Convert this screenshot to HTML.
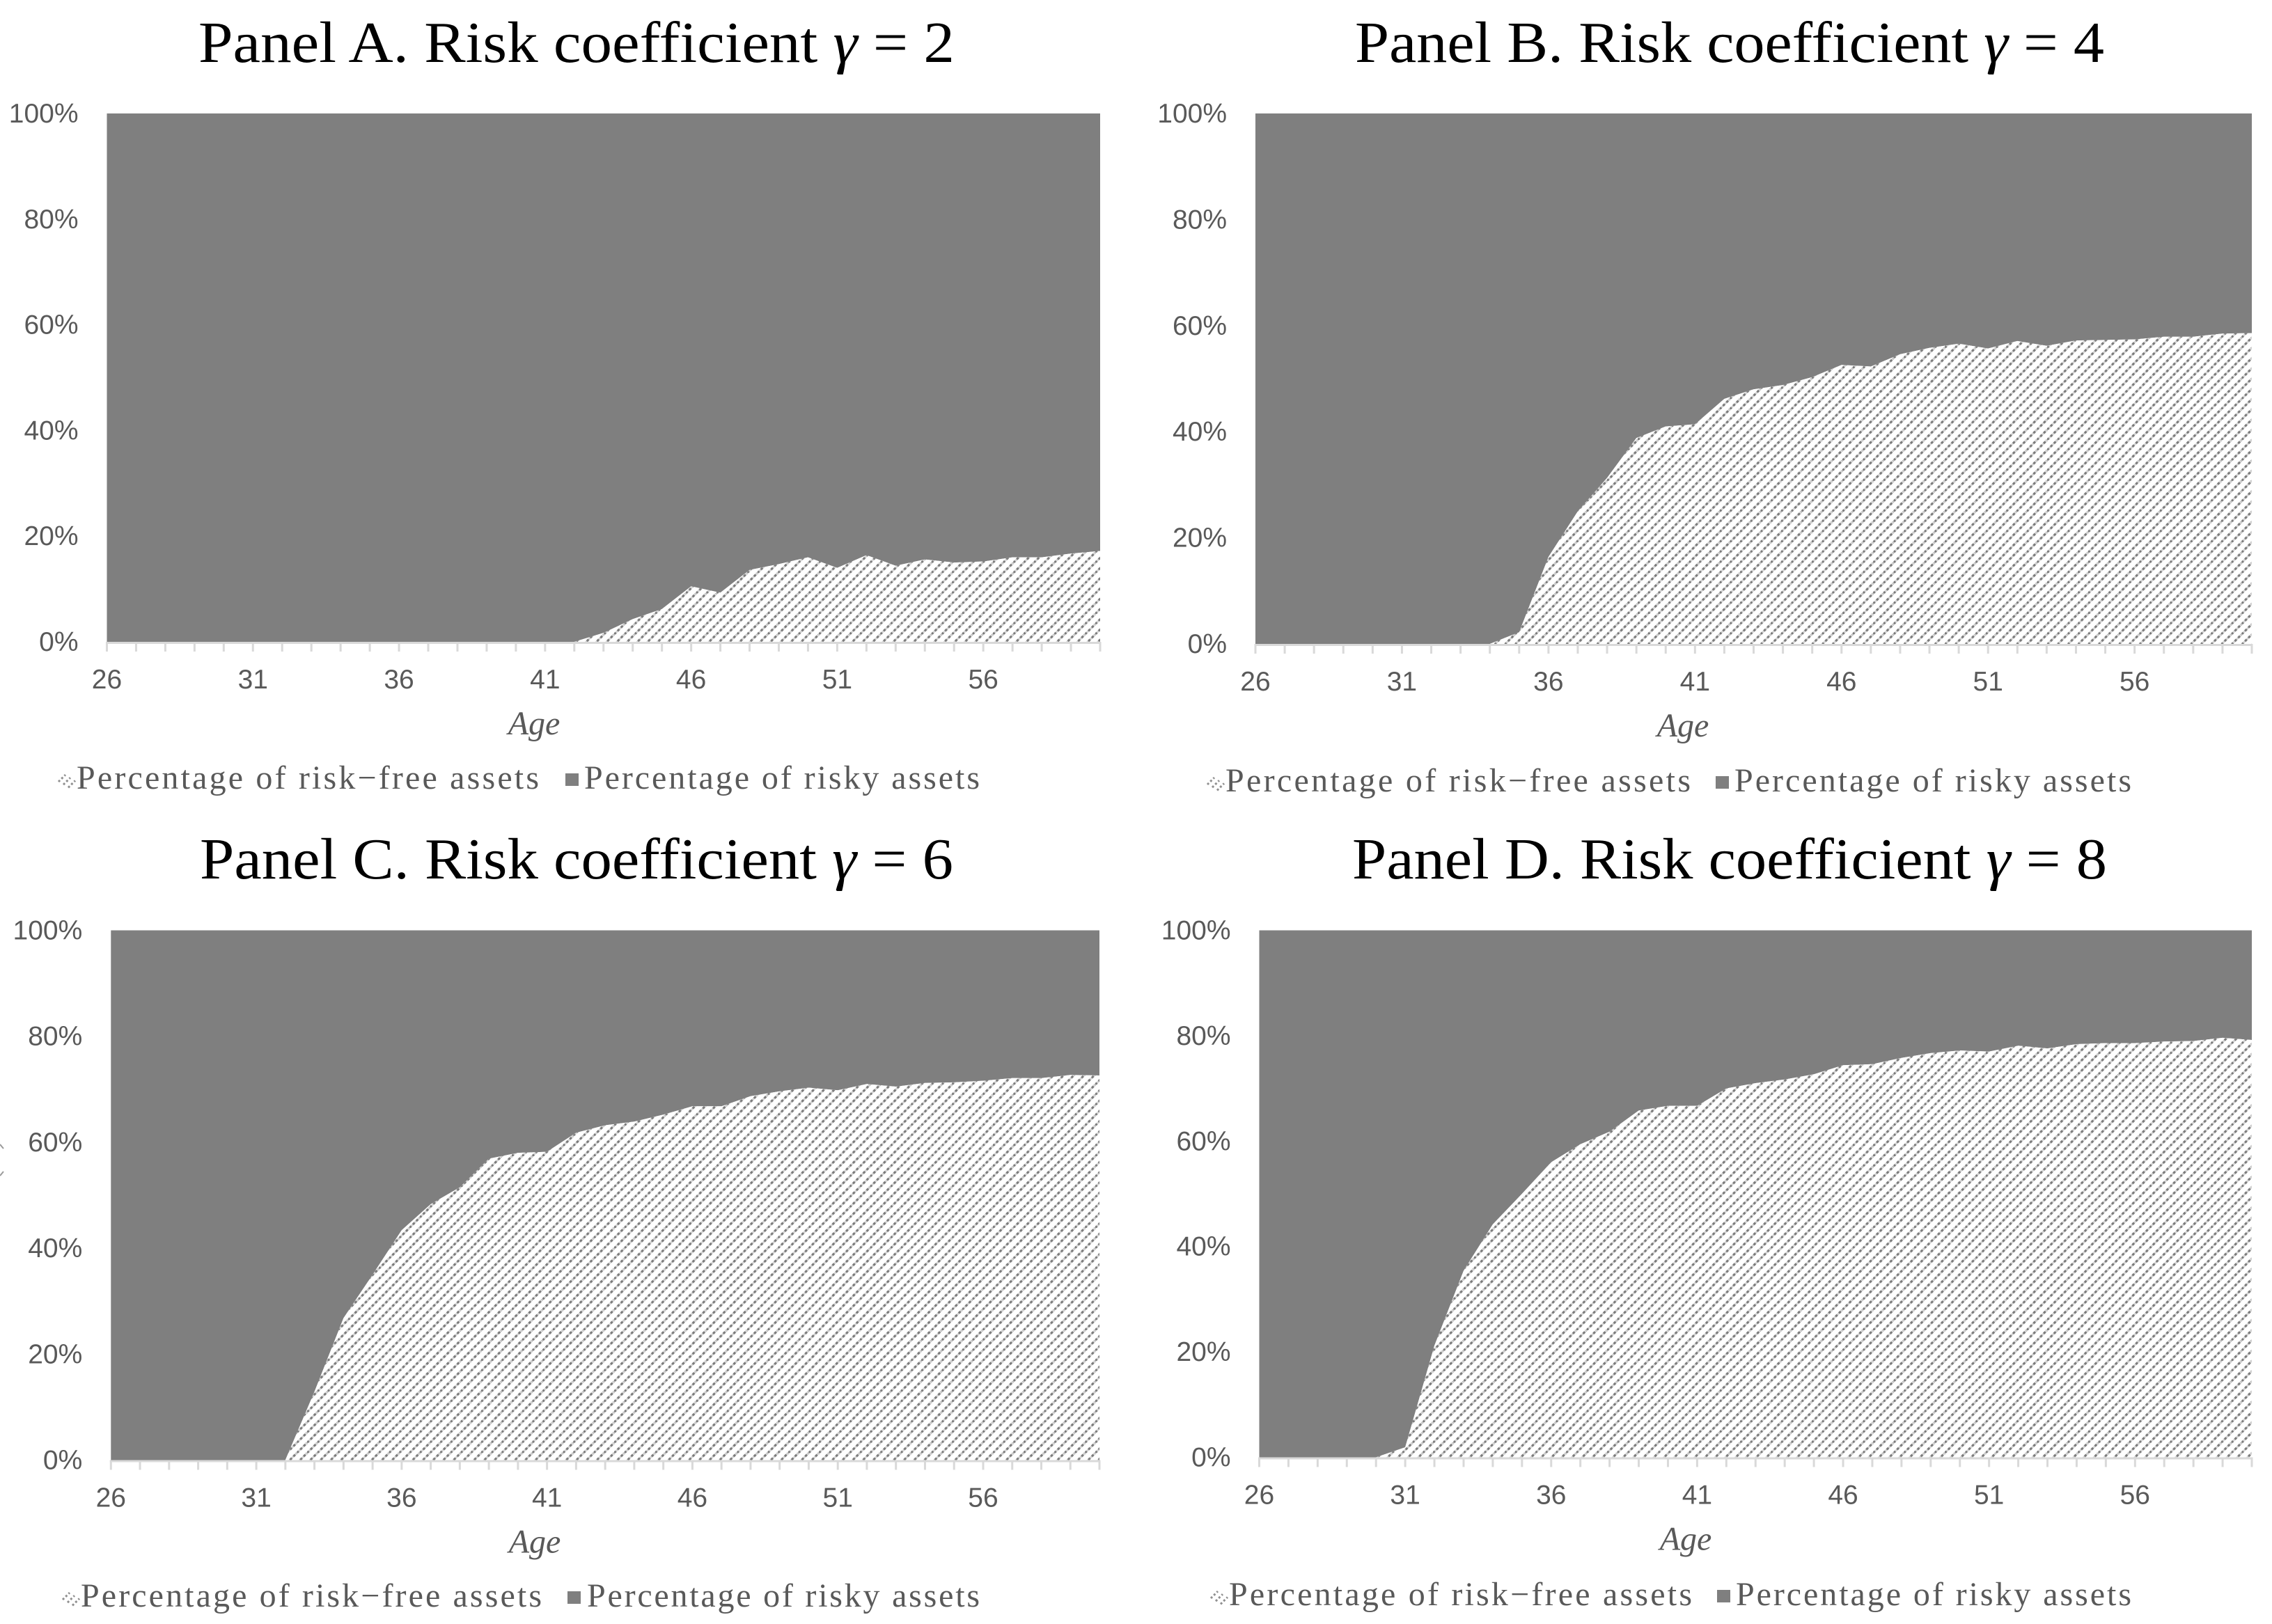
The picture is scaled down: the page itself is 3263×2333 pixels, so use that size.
<!DOCTYPE html>
<html lang="en">
<head>
<meta charset="utf-8">
<title>Risk coefficient panels</title>
<style>
html,body{margin:0;padding:0;background:#fff;}
body{width:3263px;height:2333px;overflow:hidden;}
svg{display:block;}
.title{font-family:"Liberation Serif",serif;font-size:84px;fill:#000;}
.tick{font-family:"Liberation Sans",sans-serif;font-size:39px;fill:#595959;}
.axis-title{font-family:"Liberation Serif",serif;font-style:italic;font-size:48px;fill:#595959;}
.legend{font-family:"Liberation Serif",serif;font-size:48px;fill:#595959;}
</style>
</head>
<body>
<svg id="chart" xmlns="http://www.w3.org/2000/svg" width="3263" height="2333" viewBox="0 0 3263 2333">
<defs>
<pattern id="hatch" patternUnits="userSpaceOnUse" width="14.7" height="14.7">
<rect width="14.7" height="14.7" fill="#ffffff"/>
<path d="M-3,3L3,-3M0,14.7L14.7,0M11.7,17.7L17.7,11.7" stroke="#d4d4d4" stroke-width="2.8" fill="none"/>
<path d="M-3,3L3,-3M0,14.7L14.7,0M11.7,17.7L17.7,11.7" stroke="#7a7a7a" stroke-width="3.2" stroke-dasharray="3.6 3.33" fill="none"/>
</pattern>
</defs>
<rect width="3263" height="2333" fill="#ffffff"/>
<path d="M0,1644L5,1650M5,1683L0,1689" stroke="#999" stroke-width="2" fill="none"/>
</svg>
<script>
const ageCategories = [26,27,28,29,30,31,32,33,34,35,36,37,38,39,40,41,42,43,44,45,46,47,48,49,50,51,52,53,54,55,56,57,58,59,60];
const xTickLabels = ["26","31","36","41","46","51","56"];
const yTickLabels = ["0%","20%","40%","60%","80%","100%"];
const yTickValues = [0,20,40,60,80,100];

const riskFreeA = [0,0,0,0,0,0,0,0,0,0,0,0,0,0,0,0,0,1.7,4.3,6.2,10.5,9.3,13.6,14.7,16,14,16.4,14.4,15.6,15,15.2,16,16,16.7,17.2];
const riskyA = [100,100,100,100,100,100,100,100,100,100,100,100,100,100,100,100,100,98.3,95.7,93.8,89.5,90.7,86.4,85.3,84,86,83.6,85.6,84.4,85,84.8,84,84,83.3,82.8];

const riskFreeB = [0,0,0,0,0,0,0,0,0,2.2,16.4,25,31.3,38.8,41,41.4,46.2,48,48.8,50.3,52.6,52.3,54.6,55.8,56.6,55.7,57.1,56.2,57.2,57.3,57.4,57.9,57.9,58.5,58.6];
const riskyB = [100,100,100,100,100,100,100,100,100,97.8,83.6,75,68.7,61.2,59,58.6,53.8,52,51.2,49.7,47.4,47.7,45.4,44.2,43.4,44.3,42.9,43.8,42.8,42.7,42.6,42.1,42.1,41.5,41.4];

const riskFreeC = [0,0,0,0,0,0,0,12.9,26.8,35,43.4,48.3,51.5,56.9,58,58.2,61.8,63.2,63.9,65.2,66.8,66.8,68.7,69.6,70.3,69.8,71,70.5,71.2,71.3,71.6,72.1,72.1,72.7,72.6];
const riskyC = [100,100,100,100,100,100,100,87.1,73.2,65,56.6,51.7,48.5,43.1,42,41.8,38.2,36.8,36.1,34.8,33.2,33.2,31.3,30.4,29.7,30.2,29,29.5,28.8,28.7,28.4,27.9,27.9,27.3,27.4];

const riskFreeD = [0,0,0,0,0,1.9,21.2,35.4,44.2,50,56,59.4,61.8,65.8,66.7,66.7,70,71,71.7,72.7,74.4,74.6,75.8,76.7,77.2,77,78.1,77.6,78.4,78.6,78.6,78.9,79,79.6,79.2];
const riskyD = [100,100,100,100,100,98.1,78.8,64.6,55.8,50,44,40.6,38.2,34.2,33.3,33.3,30,29,28.3,27.3,25.6,25.4,24.2,23.3,22.8,23,21.9,22.4,21.6,21.4,21.4,21.1,21,20.4,20.8];

const SVGNS = "http://www.w3.org/2000/svg";
const root = document.getElementById("chart");

function make(tag, parent) {
  const el = document.createElementNS(SVGNS, tag);
  parent.appendChild(el);
  return el;
}

function makeXScale(p) {
  const first = ageCategories[0];
  const last = ageCategories[ageCategories.length - 1];
  return function (age) { return p.left + (age - first) / (last - first) * (p.right - p.left); };
}

function makeYScale(p) {
  return function (pct) { return p.base - pct / 100 * (p.base - p.top); };
}

function drawPanel(p) {
  const x = makeXScale(p);
  const y = makeYScale(p);
  const g = make("g", root);
  
  

  const title = make("text", g);
  
  
  title.setAttribute("class", "title");
  title.setAttribute("x", p.titleX);
  title.setAttribute("y", p.titleY);
  title.setAttribute("textLength", p.titleW);
  title.setAttribute("lengthAdjust", "spacingAndGlyphs");
  const t1 = make("tspan", title);
  t1.textContent = "Panel " + p.key + ". Risk coefficient ";
  const t2 = make("tspan", title);
  t2.setAttribute("font-style", "italic");
  t2.textContent = "\u03B3";
  const t3 = make("tspan", title);
  t3.textContent = " = " + p.gamma;

  const shares = p.riskFree.map(function (v, i) { return v / (v + p.risky[i]) * 100; });
  const tops = p.risky.map(function (v, i) { return (p.riskFree[i] + v) / (p.riskFree[i] + v) * 100; });

  const lower = ageCategories.map(function (a, i) { return x(a).toFixed(1) + "," + y(shares[i]).toFixed(1); });
  const upper = ageCategories.map(function (a, i) { return x(a).toFixed(1) + "," + y(tops[i]).toFixed(1); });

  const riskyArea = make("polygon", g);
  
  
  riskyArea.setAttribute("fill", "#7f7f7f");
  riskyArea.setAttribute("points", upper.concat(lower.slice().reverse()).join(" "));

  const freeArea = make("polygon", g);
  
  
  freeArea.setAttribute("fill", "url(#hatch)");
  freeArea.setAttribute("points", lower.concat([x(ageCategories[ageCategories.length - 1]).toFixed(1) + "," + y(0).toFixed(1), x(ageCategories[0]).toFixed(1) + "," + y(0).toFixed(1)]).join(" "));

  const axis = make("line", g);
  
  
  axis.setAttribute("x1", x(ageCategories[0]) - 1.5);
  axis.setAttribute("x2", x(ageCategories[ageCategories.length - 1]) + 1.5);
  axis.setAttribute("y1", p.base + 1.5);
  axis.setAttribute("y2", p.base + 1.5);
  axis.setAttribute("stroke", "#d9d9d9");
  axis.setAttribute("stroke-width", "3");

  ageCategories.forEach(function (a) {
    const tick = make("line", g);
    
    
    tick.setAttribute("x1", x(a));
    tick.setAttribute("x2", x(a));
    tick.setAttribute("y1", p.base);
    tick.setAttribute("y2", p.base + 14);
    tick.setAttribute("stroke", "#d9d9d9");
    tick.setAttribute("stroke-width", "3");
  });

  xTickLabels.forEach(function (label) {
    const lab = make("text", g);
    
    
    lab.setAttribute("class", "tick");
    lab.setAttribute("text-anchor", "middle");
    lab.setAttribute("x", x(Number(label)));
    lab.setAttribute("y", p.base + 67);
    lab.textContent = label;
  });

  yTickLabels.forEach(function (label, i) {
    const lab = make("text", g);
    
    
    lab.setAttribute("class", "tick");
    lab.setAttribute("text-anchor", "end");
    lab.setAttribute("x", p.left - 41);
    lab.setAttribute("y", y(yTickValues[i]) + 13);
    lab.textContent = label;
  });

  const age = make("text", g);
  
  
  age.setAttribute("class", "axis-title");
  age.setAttribute("text-anchor", "middle");
  age.setAttribute("x", p.ageX);
  age.setAttribute("y", p.base + 133);
  age.textContent = "Age";

  const swatchFree = make("g", g);
  
  
  [0, 7, 14].forEach(function (off) {
    const dash = make("line", swatchFree);
    dash.setAttribute("x1", p.swatchX + off - 1);
    dash.setAttribute("y1", p.legendY - 10 + off * 0.6);
    dash.setAttribute("x2", p.swatchX + off + 9);
    dash.setAttribute("y2", p.legendY - 20 + off * 0.6);
    dash.setAttribute("stroke", "#909090");
    dash.setAttribute("stroke-width", "3");
    dash.setAttribute("stroke-dasharray", "3 3");
  });

  const legendFree = make("text", g);
  
  
  legendFree.setAttribute("class", "legend");
  legendFree.setAttribute("x", p.freeX);
  legendFree.setAttribute("y", p.legendY);
  legendFree.setAttribute("textLength", p.freeW);
  legendFree.setAttribute("lengthAdjust", "spacing");
  legendFree.textContent = "Percentage of risk\u2212free assets";

  const swatchRisky = make("rect", g);
  
  
  swatchRisky.setAttribute("x", p.squareX);
  swatchRisky.setAttribute("y", p.legendY - 22);
  swatchRisky.setAttribute("width", "19");
  swatchRisky.setAttribute("height", "18");
  swatchRisky.setAttribute("fill", "#7f7f7f");

  const legendRisky = make("text", g);
  
  
  legendRisky.setAttribute("class", "legend");
  legendRisky.setAttribute("x", p.riskyX);
  legendRisky.setAttribute("y", p.legendY);
  legendRisky.setAttribute("textLength", p.riskyW);
  legendRisky.setAttribute("lengthAdjust", "spacing");
  legendRisky.textContent = "Percentage of risky assets";
}

drawPanel({key:"A",gamma:2,riskFree:riskFreeA,risky:riskyA,left:153.5,right:1580,top:163,base:922,titleX:285,titleY:89,titleW:1086,ageX:767,swatchX:85,freeX:110,freeW:664,squareX:812,riskyX:839,riskyW:568,legendY:1133});
drawPanel({key:"B",gamma:4,riskFree:riskFreeB,risky:riskyB,left:1803,right:3234,top:163,base:925,titleX:1946,titleY:89,titleW:1076,ageX:2417,swatchX:1735,freeX:1760,freeW:668,squareX:2464,riskyX:2491,riskyW:570,legendY:1137});
drawPanel({key:"C",gamma:6,riskFree:riskFreeC,risky:riskyC,left:159.3,right:1579,top:1336.5,base:2097.5,titleX:287,titleY:1262,titleW:1082,ageX:768,swatchX:91,freeX:116,freeW:662,squareX:815,riskyX:843,riskyW:564,legendY:2308});
drawPanel({key:"D",gamma:8,riskFree:riskFreeD,risky:riskyD,left:1808.5,right:3234,top:1336.5,base:2093.5,titleX:1942,titleY:1262,titleW:1084,ageX:2421,swatchX:1740,freeX:1765,freeW:665,squareX:2466,riskyX:2493,riskyW:568,legendY:2306});
</script>
</body>
</html>
